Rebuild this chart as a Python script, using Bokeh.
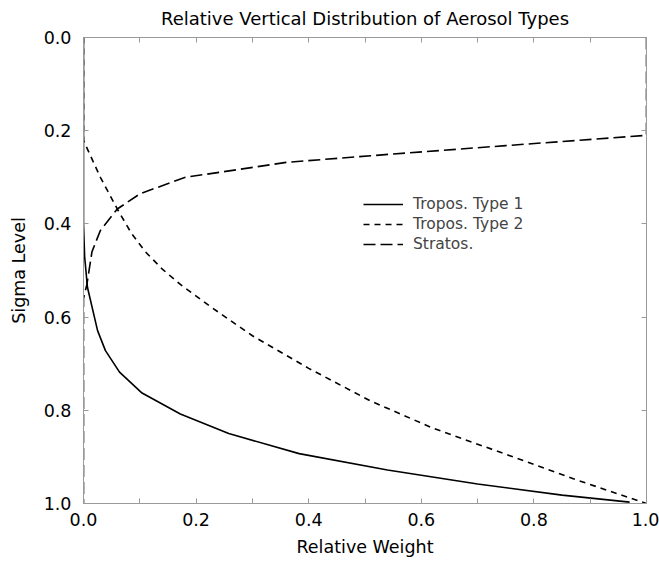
from bokeh.plotting import figure
from bokeh.models import Range1d, LinearAxis, FixedTicker, Legend, LegendItem, PrintfTickFormatter
from bokeh.embed import file_html
from bokeh.resources import INLINE

# ---- data ----
t1_weight = [0.0, 0.0, 0.002, 0.007, 0.025, 0.039, 0.064, 0.104, 0.172, 0.258, 0.383, 0.54, 0.70, 0.85, 0.97]
t1_sigma = [0.0, 0.40, 0.47, 0.536, 0.629, 0.672, 0.718, 0.763, 0.808, 0.850, 0.893, 0.928, 0.958, 0.982, 0.997]

t2_weight = [0.0, 0.0, 0.03, 0.06, 0.085, 0.11, 0.14, 0.172, 0.226, 0.30, 0.40, 0.51, 0.62, 0.747, 0.87, 1.0]
t2_sigma = [0.0, 0.221, 0.30, 0.368, 0.42, 0.46, 0.497, 0.53, 0.578, 0.64, 0.71, 0.78, 0.838, 0.893, 0.947, 1.0]

st_weight = [1.0, 1.0, 0.75, 0.55, 0.36, 0.243, 0.181, 0.101, 0.06, 0.03, 0.015, 0.006, 0.0, 0.0]
st_sigma = [0.0, 0.21, 0.232, 0.25, 0.268, 0.289, 0.30, 0.335, 0.368, 0.414, 0.46, 0.53, 0.56, 1.0]

series_names = ["Tropos. Type 1", "Tropos. Type 2", "Stratos."]
x_ticks = [0.0, 0.2, 0.4, 0.6, 0.8, 1.0]
x_minor = [0.1, 0.3, 0.5, 0.7, 0.9]
y_ticks = [0.0, 0.2, 0.4, 0.6, 0.8, 1.0]

FONT = "DejaVu Sans"
GRAY = "#9a9a9a"

p = figure(width=659, height=565, output_backend="svg", toolbar_location=None,
           x_range=Range1d(0, 1), y_range=Range1d(1, 0),
           x_axis_location=None, y_axis_location=None,
           min_border_left=83, min_border_right=13, min_border_top=37, min_border_bottom=62)
p.title.text = "Relative Vertical Distribution of Aerosol Types"
p.title.align = "center"
p.title.vertical_align = "top"
p.title.text_font = FONT
p.title.text_font_size = "18px"
p.title.text_font_style = "normal"
p.title.text_color = "black"
p.title.standoff = 14

p.grid.visible = False
p.outline_line_color = GRAY
p.background_fill_color = "white"
p.border_fill_color = "white"


def style_axis(ax, ticks, minor, labels):
    ax.ticker = FixedTicker(ticks=ticks, minor_ticks=minor)
    ax.axis_line_color = GRAY
    ax.major_tick_line_color = GRAY
    ax.minor_tick_line_color = GRAY
    ax.major_tick_in = 5
    ax.major_tick_out = 0
    ax.minor_tick_in = 5
    ax.minor_tick_out = 0
    ax.major_label_text_font = FONT
    ax.axis_label_text_font = FONT
    ax.axis_label_text_font_style = "normal"
    ax.axis_label_text_color = "black"
    if labels:
        ax.major_label_text_color = "black"
        ax.major_label_text_font_size = "17.5px"
        ax.axis_label_text_font_size = "17.5px"
    else:
        ax.major_label_text_color = None
        ax.major_label_text_alpha = 0
        ax.major_label_text_font_size = "0px"
        ax.major_label_standoff = 0
        ax.axis_label_standoff = 0


xb = LinearAxis(axis_label="Relative Weight")
style_axis(xb, x_ticks, x_minor, True)
xb.major_label_standoff = 9
xb.axis_label_standoff = 8
xb.formatter = PrintfTickFormatter(format="%.1f")
p.add_layout(xb, "below")

yl = LinearAxis(axis_label="Sigma Level")
style_axis(yl, y_ticks, [], True)
yl.major_label_standoff = 12
yl.axis_label_standoff = 12
yl.formatter = PrintfTickFormatter(format="%.1f")
p.add_layout(yl, "left")

xt = LinearAxis()
style_axis(xt, x_ticks, x_minor, False)
p.add_layout(xt, "above")

yr = LinearAxis()
style_axis(yr, y_ticks, [], False)
p.add_layout(yr, "right")

r1 = p.line(t1_weight, t1_sigma, line_color="black", line_width=1.6)
r2 = p.line(t2_weight, t2_sigma, line_color="black", line_width=1.6, line_dash="6 5")
r3 = p.line(st_weight, st_sigma, line_color="black", line_width=1.6, line_dash="12 5")

legend = Legend(items=[LegendItem(label=series_names[0], renderers=[r1]),
                       LegendItem(label=series_names[1], renderers=[r2]),
                       LegendItem(label=series_names[2], renderers=[r3])],
                location=(280, 249), padding=0, spacing=0, margin=0,
                glyph_width=40, glyph_height=20, label_height=20, label_standoff=10,
                label_text_font=FONT, label_text_font_size="15.5px",
                border_line_color=None, background_fill_alpha=0)
p.add_layout(legend, "center")

open("out.html", "w").write(file_html(p, INLINE))
